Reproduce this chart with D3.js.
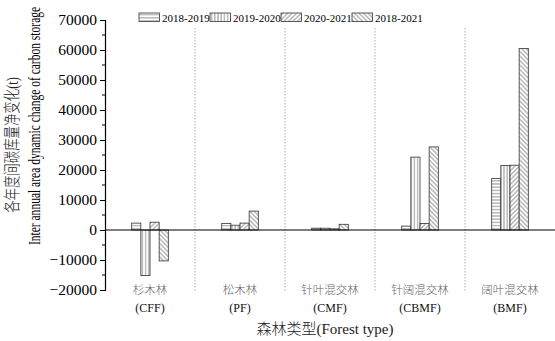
<!DOCTYPE html>
<html>
<head>
<meta charset="utf-8">
<script src="https://cdn.jsdelivr.net/npm/d3@7"></script>
<style>
  body { margin: 0; background: #fff; }
  text { font-family: "Liberation Serif", "Times New Roman", "Noto Sans CJK SC", serif; }
</style>
</head>
<body>
<svg id="chart"></svg>
<script>
// forest types (Chinese + English code)
const forestCn = ["杉木林", "松木林", "针叶混交林", "针阔混交林", "阔叶混交林"];
const forestEn = ["(CFF)", "(PF)", "(CMF)", "(CBMF)", "(BMF)"];
const periods = ["2018-2019", "2019-2020", "2020-2021", "2018-2021"];

// net change of carbon storage (t), one array per period
const v1819 = [2300, 2200, 600, 1300, 17200];
const v1920 = [-15200, 1600, 600, 24300, 21500];
const v2021 = [2600, 2300, 400, 2200, 21600];
const v1821 = [-10300, 6300, 1900, 27700, 60500];

const yTicks = [-20000, -10000, 0, 10000, 20000, 30000, 40000, 50000, 60000, 70000];
const yMinor = [-15000, -5000, 5000, 15000, 25000, 35000, 45000, 55000, 65000];

const seriesVals = [v1819, v1920, v2021, v1821];
const patIds = ["pH", "pV", "pF", "pB"];

const width = 555, height = 341;
const svg = d3.select("#chart").attr("width", width).attr("height", height);

// hatch patterns
const defs = svg.append("defs");
function hatch(id, rot) {
    const p = defs.append("pattern")
        .attr("id", id)
        .attr("patternUnits", "userSpaceOnUse")
        .attr("width", 3.2).attr("height", 3.2);
    if (rot != null) p.attr("patternTransform", `rotate(${rot})`);
    p.append("rect").attr("width", 3.2).attr("height", 3.2).attr("fill", "#fff");
    p.append("line").attr("x1", 1.6).attr("x2", 1.6).attr("y1", 0).attr("y2", 3.2)
        .attr("stroke", "#666").attr("stroke-width", 0.7);
}
hatch("pH", 90);
hatch("pV", null);
hatch("pF", 45);
hatch("pB", -45);

// scales
const x0 = d3.scaleBand().domain(forestEn).range([105, 555])
    .paddingInner(0.593).paddingOuter(0.2965);
const x1 = d3.scaleBand().domain(periods).range([0, x0.bandwidth()]);
const y = d3.scaleLinear().domain([-20000, 70000]).range([290, 20]);
const step = x0.step();

// dotted separators
svg.append("g").selectAll("line")
    .data(forestEn.slice(1))
    .enter().append("line")
    .attr("x1", d => x0(d) + x0.bandwidth() / 2 - step / 2)
    .attr("x2", d => x0(d) + x0.bandwidth() / 2 - step / 2)
    .attr("y1", 28).attr("y2", 292)
    .attr("stroke", "#999").attr("stroke-width", 0.8)
    .attr("stroke-dasharray", "1.5,1.5");

// bars
const bars = svg.append("g");
periods.forEach((per, si) => {
    bars.selectAll(".b" + si)
        .data(seriesVals[si])
        .enter().append("rect")
        .attr("class", "b" + si)
        .attr("x", (d, i) => x0(forestEn[i]) + x1(per))
        .attr("width", x1.bandwidth())
        .attr("y", d => y(Math.max(0, d)))
        .attr("height", d => Math.abs(y(d) - y(0)))
        .attr("fill", `url(#${patIds[si]})`)
        .attr("stroke", "#333").attr("stroke-width", 0.8);
});

// zero line
svg.append("line")
    .attr("x1", 105).attr("x2", 555)
    .attr("y1", y(0)).attr("y2", y(0))
    .attr("stroke", "#000").attr("stroke-width", 1.2);

// y axis
const yAxis = svg.append("g").attr("transform", "translate(105,0)");
yAxis.call(d3.axisLeft(y).tickValues(yTicks).tickSize(5).tickPadding(3).tickFormat(d3.format("d")));
yAxis.attr("font-family", "Liberation Serif").attr("font-size", null);
yAxis.select(".domain").attr("stroke-width", 1.2);
yAxis.selectAll(".tick line").attr("stroke-width", 1);
yAxis.selectAll("text").style("font-size", "15.5px").attr("fill", "#000");
yAxis.append("g").selectAll("line")
    .data(yMinor).enter().append("line")
    .attr("x1", -3).attr("x2", 0)
    .attr("y1", d => y(d)).attr("y2", d => y(d))
    .attr("stroke", "#000").attr("stroke-width", 1);

// category labels
svg.append("g").selectAll("text")
    .data(forestCn).enter().append("text")
    .attr("x", (d, i) => x0(forestEn[i]) + x0.bandwidth() / 2)
    .attr("y", 290)
    .attr("text-anchor", "middle").attr("dominant-baseline", "central")
    .style("font-size", "11.5px").style("font-weight", 300).attr("fill", "#666")
    .text(d => d);
svg.append("g").selectAll("text")
    .data(forestEn).enter().append("text")
    .attr("x", d => x0(d) + x0.bandwidth() / 2)
    .attr("y", 308)
    .attr("text-anchor", "middle").attr("dominant-baseline", "central")
    .style("font-size", "12px").attr("fill", "#111")
    .text(d => d);

// axis titles
svg.append("text")
    .attr("x", 325).attr("y", 329)
    .attr("text-anchor", "middle").attr("dominant-baseline", "central")
    .style("font-size", "15px").style("font-weight", 300).attr("fill", "#222")
    .text("森林类型(Forest type)");

// y titles are squeezed along their length, as in the original figure
svg.append("text")
    .attr("transform", "translate(12,145) rotate(-90) scale(0.73,1)")
    .attr("text-anchor", "middle").attr("dominant-baseline", "central")
    .style("font-size", "17px").style("font-weight", 300).attr("fill", "#222")
    .text("各年度间碳库量净变化(t)");

svg.append("text")
    .attr("transform", "translate(35,126) rotate(-90) scale(0.72,1)")
    .attr("text-anchor", "middle").attr("dominant-baseline", "central")
    .style("font-size", "16px")
    .text("Inter annual area dynamic change of carbon storage");

// legend
const legend = svg.append("g").attr("transform", "translate(139,13)");
const lg = legend.selectAll("g")
    .data(periods).enter().append("g")
    .attr("transform", (d, i) => `translate(${i * 71},0)`);
lg.append("rect")
    .attr("width", 20.5).attr("height", 8.5)
    .attr("fill", (d, i) => `url(#${patIds[i]})`)
    .attr("stroke", "#333").attr("stroke-width", 0.8);
lg.append("text")
    .attr("x", 23).attr("y", 9)
    .style("font-size", "11px")
    .text(d => d);
</script>
</body>
</html>
